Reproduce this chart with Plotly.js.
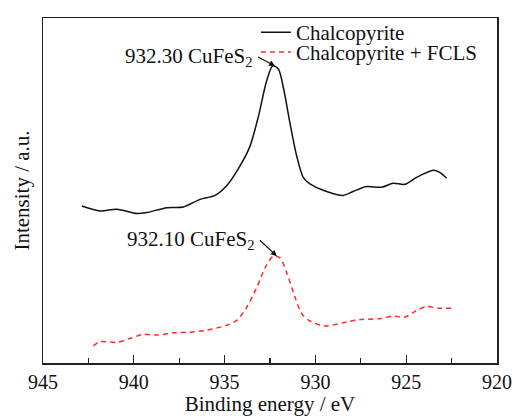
<!DOCTYPE html>
<html>
<head>
<meta charset="utf-8">
<script src="https://cdn.plot.ly/plotly-3.0.1.min.js"></script>
<style>html,body{margin:0;padding:0;background:#fff;}#chart{width:515px;height:416px;}</style>
</head>
<body>
<div id="chart"></div>
<script>
// Binding energy (eV) and intensity (a.u.)
const energyChalco = [942.86, 941.85, 940.93, 939.83, 939.28, 938.18, 937.27, 936.35, 935.52, 934.88, 934.15, 933.6, 933.14, 932.68, 932.35, 932.04, 931.77, 931.4, 931.03, 930.67, 930.3, 929.38, 928.47, 927.92, 927.18, 926.35, 925.72, 925.07, 924.43, 923.51, 923.15, 922.78];
const intensityChalco = [159.3, 154.3, 156, 151.6, 152.6, 157.6, 158.3, 166, 170, 180, 200, 220, 250, 286.6, 301.6, 298.3, 280, 243.3, 210, 188.3, 181.6, 174, 170, 174, 179, 178.3, 182.3, 181.3, 188.3, 195.6, 193.3, 187.6];

const energyFCLS = [942.22, 941.85, 940.93, 940.2, 939.47, 938.73, 937.82, 937.08, 935.98, 934.88, 934.33, 933.78, 933.23, 932.77, 932.32, 931.95, 931.58, 931.12, 930.75, 930.3, 929.47, 928.28, 927.55, 926.45, 925.72, 925.07, 924.43, 923.88, 923.24, 922.5];
const intensityFCLS = [17.3, 21.6, 21, 25, 29, 28.3, 30.6, 31, 33.3, 38.3, 43.3, 56.6, 76.6, 96.6, 108.3, 106.6, 91.6, 66.6, 50, 42.6, 37.6, 41.6, 44, 45, 47.6, 46.6, 53.3, 57.3, 55.6, 55.6];

const seriesNames = ["Chalcopyrite", "Chalcopyrite + FCLS"];
const xTickVals = [945, 940, 935, 930, 925, 920];

// Peak labels: [text, peak energy, peak intensity]
const peakLabels = [
  ["932.30 CuFeS<sub>2</sub>", 932.22, 301.3],
  ["932.10 CuFeS<sub>2</sub>", 932.12, 108.3]
];

const FONT = "'Liberation Serif', 'Times New Roman', serif";
const TXT = {family: FONT, size: 21, color: "#111"};

const traces = [
  {x: energyChalco, y: intensityChalco, name: seriesNames[0], type: "scatter", mode: "lines",
   legend: "legend",
   line: {color: "#111111", width: 1.5, shape: "spline", smoothing: 0.8}},
  {x: energyFCLS, y: intensityFCLS, name: seriesNames[1], type: "scatter", mode: "lines",
   legend: "legend2",
   line: {color: "#ff2a2a", width: 1.5, dash: "5px,4px", shape: "spline", smoothing: 0.8}}
];

const arrowOffsets = [[-17, -9], [-17, -16]];
const annotations = peakLabels.map(function (p, i) {
  return {x: p[1], y: p[2], xref: "x", yref: "y", text: p[0], showarrow: true,
    ax: arrowOffsets[i][0], ay: arrowOffsets[i][1],
    xanchor: "right", yanchor: "middle", borderpad: 4,
    arrowhead: 2, arrowsize: 1, arrowwidth: 1.2, arrowcolor: "#111", standoff: 0,
    font: TXT};
});

const legendBase = {x: 0.469, xanchor: "left", yanchor: "top", bgcolor: "rgba(0,0,0,0)", font: TXT,
  borderwidth: 0};

const layout = {
  width: 515, height: 416,
  margin: {l: 43, r: 18, t: 13, b: 53},
  paper_bgcolor: "#fff", plot_bgcolor: "#fff",
  font: TXT,
  showlegend: true,
  legend: Object.assign({}, legendBase, {y: 1.017}),
  legend2: Object.assign({}, legendBase, {y: 0.96}),
  xaxis: {
    range: [945, 920], tickvals: xTickVals, ticks: "inside", ticklen: 8, tickwidth: 1.2, tickcolor: "#222",
    minor: {dtick: 2.5, ticks: "inside", ticklen: 5, tickwidth: 1.2, tickcolor: "#222"},
    showline: true, linecolor: "#222", linewidth: 1.5, mirror: true, showgrid: false, zeroline: false,
    tickfont: {family: FONT, size: 20, color: "#111"},
    title: {text: "Binding energy / eV", font: TXT, standoff: 6},
    automargin: false
  },
  yaxis: {
    range: [0, 350], showticklabels: false, ticks: "", showgrid: false, zeroline: false,
    showline: true, linecolor: "#222", linewidth: 1.5, mirror: true,
    title: {text: "Intensity / a.u.", font: TXT, standoff: 6},
    automargin: false
  },
  annotations: annotations
};

Plotly.newPlot("chart", traces, layout, {staticPlot: true, displayModeBar: false});
</script>
</body>
</html>
